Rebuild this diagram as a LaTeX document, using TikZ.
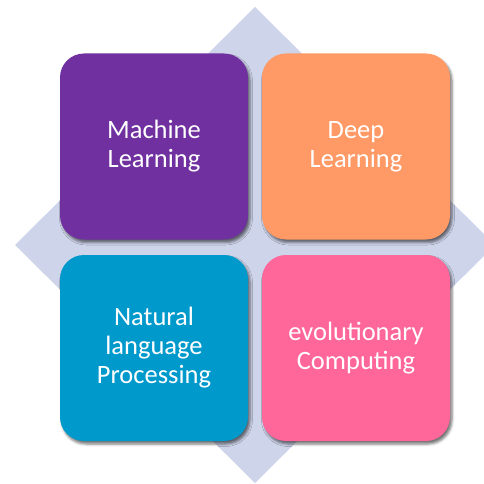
\documentclass[tikz,border=0pt]{standalone}
\usepackage{fontspec}
\setmainfont{Carlito}
\usetikzlibrary{shadows}
\usetikzlibrary{shadows.blur}

\definecolor{fieldbg}{RGB}{206,212,234}
\definecolor{mlpurple}{RGB}{112,48,160}
\definecolor{dlorange}{RGB}{255,153,102}
\definecolor{nlpblue}{RGB}{0,153,204}
\definecolor{ecpink}{RGB}{255,102,153}

\begin{document}
\begin{tikzpicture}[
    x=1pt, y=-1pt,
    font=\fontsize{26.5}{29}\selectfont
]
\tikzset{
    areabox/.style = {rectangle, rounded corners=24pt, align=center, text=white,
        minimum width=188pt, minimum height=186pt, inner sep=0pt,
        blur shadow={shadow xshift=2pt, shadow yshift=-3pt,
                     shadow blur radius=2.5pt, shadow opacity=55}}
}
\useasboundingbox (0,0) rectangle (484,484);
\clip (0,0) rectangle (484,484);
% diamond behind the four boxes
\fill[fieldbg] (255,7) -- (495,245) -- (255,483) -- (15,245) -- cycle;
\node[areabox, fill=mlpurple] at (154,146.5) (ml) {Machine\\Learning};
\node[areabox, fill=dlorange] at (356,146.5) (dl) {Deep\\Learning};
\node[areabox, fill=nlpblue]  at (154,348) (nlp) {Natural\\language\\Processing};
\node[areabox, fill=ecpink]   at (356,348) (ec) {evolutionary\\Computing};
\end{tikzpicture}
\end{document}
